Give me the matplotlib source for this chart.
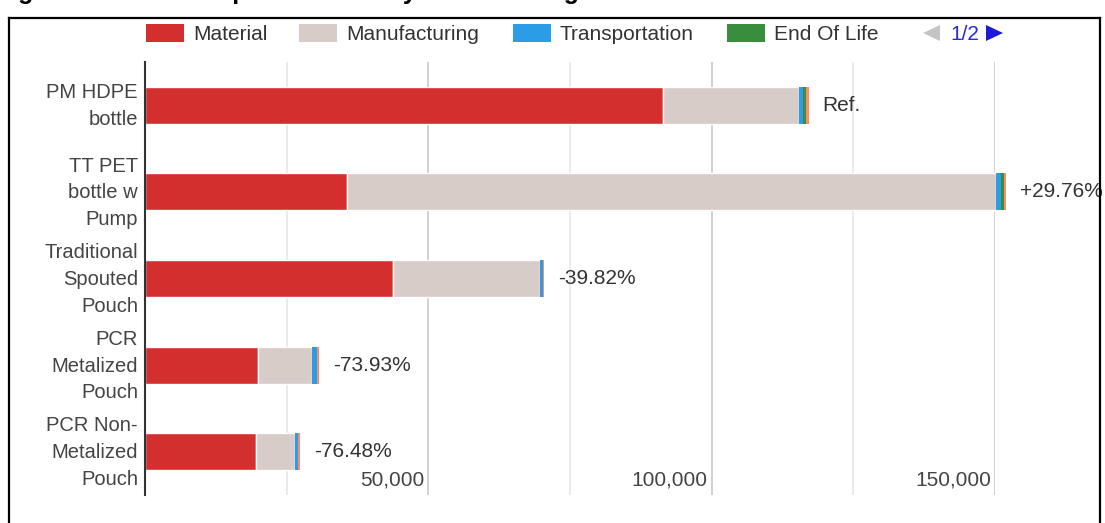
import numpy as np
import matplotlib
matplotlib.use("Agg")
import matplotlib.pyplot as plt
from matplotlib.patches import Rectangle, Polygon
from matplotlib.lines import Line2D
import matplotlib.transforms as mtransforms

plt.rcParams['font.family'] = ['Liberation Sans', 'DejaVu Sans']

# ---------------- data ----------------
categories = ["PM HDPE\nbottle", "TT PET\nbottle w\nPump", "Traditional\nSpouted\nPouch",
              "PCR\nMetalized\nPouch", "PCR Non-\nMetalized\nPouch"]
material = [91400, 35700, 43750, 20000, 19600]
manufacturing = [24000, 114550, 25900, 9500, 6900]
transportation = [700, 880, 500, 800, 450]
end_of_life = [600, 460, 80, 60, 60]
other = [400, 300, 200, 330, 330]          # 5th series (legend page 2)
series_names = ["Material", "Manufacturing", "Transportation", "End Of Life", "Other"]
series_colors = ["#d32f2f", "#d7ccc8", "#2b9ce6", "#388e3c", "#ff8a65"]
change_labels = ["Ref.", "+29.76%", "-39.82%", "-73.93%", "-76.48%"]
grid_values = [25000, 50000, 75000, 100000, 125000, 150000]
tick_label_values = [50000, 100000, 150000]
title = "Figure 4: Carbon Impact Results by Material Stage"

FS = 15

# ---------------- figure ----------------
W, H = 1105, 523
fig = plt.figure(figsize=(W / 100, H / 100), dpi=100)

def fx(px):
    return px / W

def fy(py):
    return 1 - py / H

ax = fig.add_axes([fx(145), fy(495), fx(995) - fx(145), (495 - 62) / H])

series_values = [material, manufacturing, transportation, end_of_life, other]
edge_widths = [1.0, 1.0, 0.0, 0.0, 0.0]
n = len(categories)
ypos = np.arange(n)
left = np.zeros(n)
for name, vals, color, lw in zip(series_names, series_values, series_colors, edge_widths):
    vals = np.asarray(vals, dtype=float)
    ax.barh(ypos, vals, left=left, height=0.425, color=color, edgecolor='white',
            linewidth=lw, clip_on=False, zorder=3, label=name)
    left += vals
totals = left.copy()

ax.set_xlim(0, 150000)
ax.set_ylim(n - 0.5, -0.5)

for v in grid_values:
    major = v in tick_label_values
    ax.axvline(v, color='#c8c8c8' if major else '#e6e6e6', lw=1.2, zorder=1)

for s in ['top', 'right', 'bottom']:
    ax.spines[s].set_visible(False)
ax.spines['left'].set_color('#333333')
ax.spines['left'].set_linewidth(1.5)
ax.spines['left'].set_zorder(5)

ax.set_xticks([])
ax.set_yticks([])

# category labels (drawn as annotations so they can be positioned precisely)
for i, cat in enumerate(categories):
    ax.annotate(cat, xy=(0, i), xytext=(-7, -1), textcoords='offset pixels',
                ha='right', va='center', multialignment='right', linespacing=1.52,
                fontsize=14.5, color='#444444', annotation_clip=False)

trans = mtransforms.blended_transform_factory(ax.transData, ax.transAxes)
for v in tick_label_values:
    ax.annotate(f"{v:,}", xy=(v, 15 / 433), xycoords=trans,
                xytext=(-4, 0), textcoords='offset pixels',
                ha='right', va='center', fontsize=FS, color='#444444')

for i, (tot, lab) in enumerate(zip(totals, change_labels)):
    ax.annotate(lab, xy=(tot, i), xytext=(14, 0), textcoords='offset pixels',
                ha='left', va='center', fontsize=FS, color='#333333',
                annotation_clip=False)

# ---------------- legend (page 1 of 2) ----------------
legend_x = [146, 299, 513, 727]
for x0, name, color in zip(legend_x, series_names[:4], series_colors[:4]):
    fig.patches.append(Rectangle((fx(x0), fy(42)), fx(38), 18 / H, transform=fig.transFigure,
                                 facecolor=color, edgecolor='none'))
    fig.text(fx(x0 + 47), fy(40.5), name, fontsize=FS, color='#333333', va='baseline', ha='left')

fig.patches.append(Polygon([[fx(940), fy(25)], [fx(940), fy(41)], [fx(923), fy(33)]],
                           closed=True, transform=fig.transFigure, facecolor='#c4c4c4',
                           edgecolor='none'))
fig.text(fx(950), fy(40.5), "1/2", fontsize=FS, color='#2a2ad0', va='baseline', ha='left')
fig.patches.append(Polygon([[fx(986), fy(25)], [fx(986), fy(41)], [fx(1003), fy(33)]],
                           closed=True, transform=fig.transFigure, facecolor='#1a1ad8',
                           edgecolor='none'))

# ---------------- frame & clipped title ----------------
for xs, ys in [([9, 9], [18, 523]), ([9, 1100], [18, 18]), ([1100, 1100], [18, 523])]:
    fig.lines.append(Line2D([fx(x) for x in xs], [fy(y) for y in ys], transform=fig.transFigure,
                            color='black', lw=1.6))

fig.text(fx(-4), fy(-1), title, fontsize=18, fontweight='bold', color='black',
         ha='left', va='baseline')

fig.savefig("out.png", dpi=100)
